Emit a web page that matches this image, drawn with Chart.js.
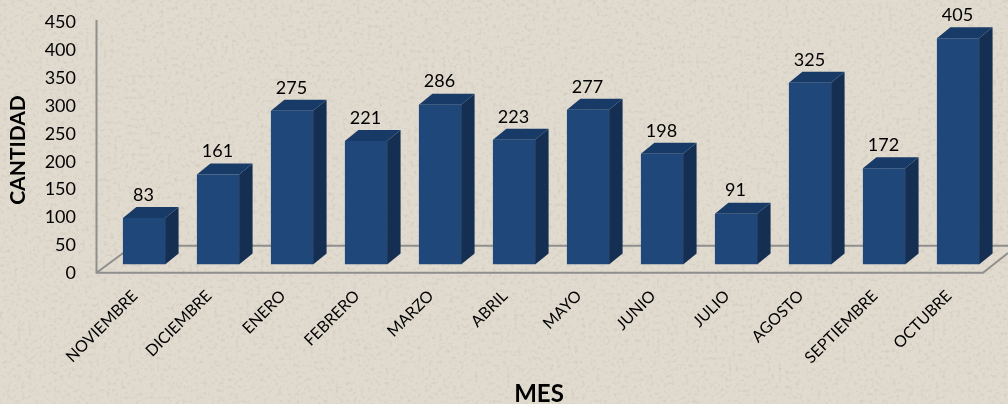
<!DOCTYPE html>
<html><head><meta charset="utf-8">
<style>
html,body{margin:0;padding:0;background:#e1dbcf;width:1008px;height:404px;overflow:hidden}
#tex{position:absolute;left:0;top:0}
#wrap{position:absolute;left:0;top:0;width:1008px;height:404px}
</style>
<script src="https://cdn.jsdelivr.net/npm/chart.js@4"></script>
</head><body>
<svg id="tex" width="1008" height="404"><filter id="n" x="0" y="0" width="100%" height="100%"><feTurbulence type="fractalNoise" baseFrequency="0.28" numOctaves="3" seed="11"/><feColorMatrix type="matrix" values="0 0 0 0 0.40  0 0 0 0 0.37  0 0 0 0 0.31  2.4 0 0 0 -1.2"/></filter><rect width="1008" height="404" filter="url(#n)" opacity="0.28"/></svg>
<div id="wrap"><canvas id="c" width="1008" height="404"></canvas></div>
<script>
const categories=["NOVIEMBRE","DICIEMBRE","ENERO","FEBRERO","MARZO","ABRIL","MAYO","JUNIO","JULIO","AGOSTO","SEPTIEMBRE","OCTUBRE"];
const cantidad=[83,161,275,221,286,223,277,198,91,325,172,405];
const FONT="Lato";
const DEPTH_X=13.5, DEPTH_Y=11;
const frontColor="#1f4779", sideColor="#152f52", topColor="#183a66", wallColor="#8f8f8d";
const depthPlugin={
  id:"depth",
  beforeDatasetsDraw(chart){
    const g=chart.ctx;
    g.save();g.strokeStyle=wallColor;g.lineWidth=2;
    g.beginPath();
    g.moveTo(96.5,20);g.lineTo(96.5,272.7);g.lineTo(983,272.7);g.lineTo(1008,253);
    g.moveTo(96.5,272.7);g.lineTo(133,245.7);g.lineTo(1008,245.7);
    g.stroke();g.restore();
    const bars=chart.getDatasetMeta(0).data;
    g.save();
    bars.forEach(b=>{
      const r=b.x+b.width/2,l=b.x-b.width/2,t=b.y,bt=b.base;
      g.fillStyle=sideColor;g.beginPath();g.moveTo(r,t);g.lineTo(r+DEPTH_X,t-DEPTH_Y);g.lineTo(r+DEPTH_X,bt-DEPTH_Y);g.lineTo(r,bt);g.closePath();g.fill();
      g.fillStyle=topColor;g.beginPath();g.moveTo(l,t);g.lineTo(l+DEPTH_X,t-DEPTH_Y);g.lineTo(r+DEPTH_X,t-DEPTH_Y);g.lineTo(r,t);g.closePath();g.fill();
    });
    g.restore();
  },
  afterDatasetsDraw(chart){
    const g=chart.ctx,bars=chart.getDatasetMeta(0).data;
    g.save();g.fillStyle="#000";g.font="18px "+FONT;g.textAlign="center";g.textBaseline="middle";
    bars.forEach((b,i)=>g.fillText(String(cantidad[i]),b.x-0.5,b.y-DEPTH_Y-12));
    g.font="bold 24px "+FONT;
    g.fillText("MES",539,394);
    g.font="bold 21px "+FONT;
    g.translate(18,150);g.rotate(-Math.PI/2);
    g.fillText("CANTIDAD",0,0);
    g.restore();
  }
};
new Chart(document.getElementById("c"),{
  type:"bar",
  data:{labels:categories,datasets:[{label:"CANTIDAD",data:cantidad,backgroundColor:frontColor,categoryPercentage:1,barPercentage:0.57,borderWidth:0}]},
  plugins:[depthPlugin],
  options:{
    responsive:false,animation:false,
    layout:{padding:{top:13,right:13,left:0,bottom:0}},
    plugins:{legend:{display:false},tooltip:{enabled:false}},
    scales:{
      x:{
        grid:{display:false,drawTicks:false},border:{display:false},
        ticks:{color:"#000",font:{family:FONT,size:16},maxRotation:45,minRotation:45,autoSkip:false,padding:22,labelOffset:-9},
        afterFit(s){s.height=139.5;s.paddingLeft=0;s.paddingRight=0;}
      },
      y:{
        min:0,max:450,
        grid:{display:false,drawTicks:false},border:{display:false},
        ticks:{stepSize:50,color:"#000",font:{family:FONT,size:18},padding:31,labelOffset:9},
        afterFit(s){s.width=107;s.paddingTop=0;s.paddingBottom=0;}
      }
    }
  }
});
</script>
</body></html>
